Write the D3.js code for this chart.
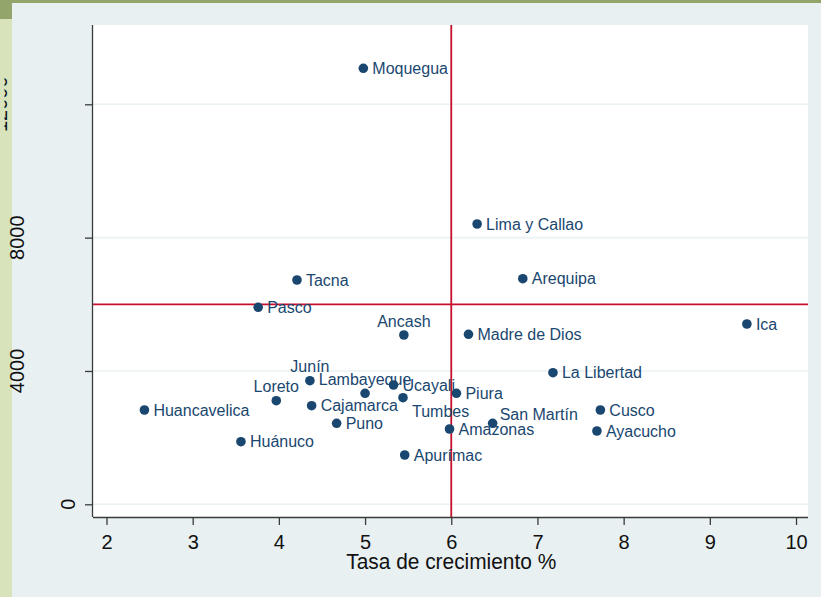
<!DOCTYPE html>
<html>
<head>
<meta charset="utf-8">
<script src="https://cdn.jsdelivr.net/npm/d3@7"></script>
<style>
  html, body { margin: 0; padding: 0; background: #e8f0f2; }
  svg { display: block; }
  text { font-family: "Liberation Sans", Arial, sans-serif; }
</style>
</head>
<body>
<svg id="chart" width="821" height="597"></svg>
<script>
// ---- Data ----
const regions = ["Moquegua","Lima y Callao","Arequipa","Tacna","Pasco","Ancash","Madre de Dios","Ica",
  "La Libertad","Junín","Lambayeque","Loreto","Ucayali","Tumbes","Cajamarca","Puno","Huánuco",
  "Apurímac","Amazonas","Piura","San Martín","Huancavelica","Cusco","Ayacucho"];
const growth = [4.98, 6.30, 6.83, 4.21, 3.76, 5.45, 6.20, 9.43,
  7.18, 4.36, 5.00, 3.97, 5.33, 5.44, 4.38, 4.67, 3.56,
  5.46, 5.98, 6.06, 6.48, 2.44, 7.73, 7.69];
const value = [13080, 8409, 6768, 6729, 5910, 5079, 5100, 5409,
  3948, 3708, 3330, 3108, 3579, 3198, 2958, 2430, 1878,
  1479, 2259, 3330, 2430, 2829, 2829, 2199];
// marker label clock positions (Stata mlabvposition)
const labelClock = [3,3,3,3,3,12,3,3,
  3,12,12,12,3,4,3,3,3,
  3,3,3,2,3,3,3];
const xTicks = [2,3,4,5,6,7,8,9,10];
const yTicks = [0,4000,8000,12000];
const xRefLine = 6;
const yRefLine = 6000;
const xTitle = "Tasa de crecimiento %";

// ---- Layout ----
const svg = d3.select("#chart");
const W = 821, H = 597;
const plot = {left: 93, right: 808, top: 25, bottom: 517};
const navy = "#1a476f";
const red = "#c8102e";

// background decorations
svg.append("rect").attr("x",0).attr("y",0).attr("width",W).attr("height",H).attr("fill","#e8f0f2");
svg.append("rect").attr("x",0).attr("y",0).attr("width",W).attr("height",3).attr("fill","#94a56c");
svg.append("rect").attr("x",0).attr("y",3).attr("width",12).attr("height",H-3).attr("fill","#d8e3bb");
svg.append("rect").attr("x",0).attr("y",3).attr("width",12).attr("height",16).attr("fill","#94a56c");

const defs = svg.append("defs");
defs.append("clipPath").attr("id","ylabclip")
  .append("rect").attr("x",4.5).attr("y",0).attr("width",W).attr("height",H);

const x = d3.scaleLinear().domain([1.8434, 10.139]).range([plot.left, plot.right]);
const y = d3.scaleLinear().domain([-381, 14379]).range([plot.bottom, plot.top]);

// plot region
svg.append("rect").attr("x",plot.left).attr("y",plot.top)
  .attr("width",plot.right-plot.left).attr("height",plot.bottom-plot.top).attr("fill","#ffffff");

// grid lines
svg.append("g").selectAll("line").data(yTicks).join("line")
  .attr("x1",plot.left).attr("x2",plot.right)
  .attr("y1",d=>y(d)).attr("y2",d=>y(d))
  .attr("stroke","#eaf2f3").attr("stroke-width",1.6);

// reference lines
svg.append("line").attr("x1",plot.left).attr("x2",plot.right)
  .attr("y1",y(yRefLine)).attr("y2",y(yRefLine))
  .attr("stroke",red).attr("stroke-width",1.8);
svg.append("line").attr("x1",x(xRefLine)).attr("x2",x(xRefLine))
  .attr("y1",plot.top).attr("y2",plot.bottom)
  .attr("stroke",red).attr("stroke-width",1.8);

// axes
const xAxis = svg.append("g").attr("transform",`translate(0,${plot.bottom})`)
  .call(d3.axisBottom(x).tickValues(xTicks).tickSize(8).tickFormat(d3.format("d")));
xAxis.select(".domain").attr("d",`M${plot.left},0.5H${plot.right}`).attr("stroke","#3a3a3a").attr("stroke-width",1.3);
xAxis.selectAll(".tick line").attr("stroke","#3a3a3a").attr("stroke-width",1.3);
xAxis.selectAll(".tick text").attr("font-size",20).attr("fill","#111")
  .attr("y",32).attr("dy",null)
  .attr("font-family","Liberation Sans, Arial, sans-serif");

const yAxis = svg.append("g").attr("transform",`translate(${plot.left},0)`)
  .call(d3.axisLeft(y).tickValues(yTicks).tickSize(8).tickFormat(""));
yAxis.select(".domain").attr("d",`M-0.5,${plot.top}V${plot.bottom}`).attr("stroke","#3a3a3a").attr("stroke-width",1.3);
yAxis.selectAll(".tick line").attr("stroke","#3a3a3a").attr("stroke-width",1.3);

// y tick labels (vertical, Stata-style placement)
const ylab = svg.append("g").attr("clip-path","url(#ylabclip)");
yTicks.forEach(t => {
  const txt = ylab.append("text")
    .attr("font-size",20).attr("fill","#111")
    .attr("text-anchor","middle")
    .text(d3.format("d")(t));
  const len = txt.node().getComputedTextLength();
  const bx = 92 - 1.53*len;
  txt.attr("transform",`translate(${bx},${y(t)}) rotate(-90)`);
});

// x title
svg.append("text").attr("x",(x(2)+x(10))/2).attr("y",569)
  .attr("text-anchor","middle").attr("font-size",22).attr("fill","#111")
  .attr("textLength",210).attr("lengthAdjust","spacingAndGlyphs")
  .text(xTitle);

// points
const data = regions.map((r,i)=>({name:r, gx:growth[i], v:value[i], clock:labelClock[i]}));
svg.append("g").selectAll("circle").data(data).join("circle")
  .attr("cx",d=>x(d.gx)).attr("cy",d=>y(d.v)).attr("r",4.8).attr("fill",navy);

const off = {3:{dx:9,dy:0,anchor:"start"}, 12:{dx:0,dy:-14,anchor:"middle"},
             4:{dx:9,dy:14,anchor:"start"}, 2:{dx:7,dy:-9,anchor:"start"}};
svg.append("g").selectAll("text").data(data).join("text")
  .attr("x",d=>x(d.gx)+off[d.clock].dx)
  .attr("y",d=>y(d.v)+off[d.clock].dy)
  .attr("dy","0.36em")
  .attr("text-anchor",d=>off[d.clock].anchor)
  .attr("font-size",16).attr("fill",navy)
  .text(d=>d.name);
</script>
</body>
</html>
